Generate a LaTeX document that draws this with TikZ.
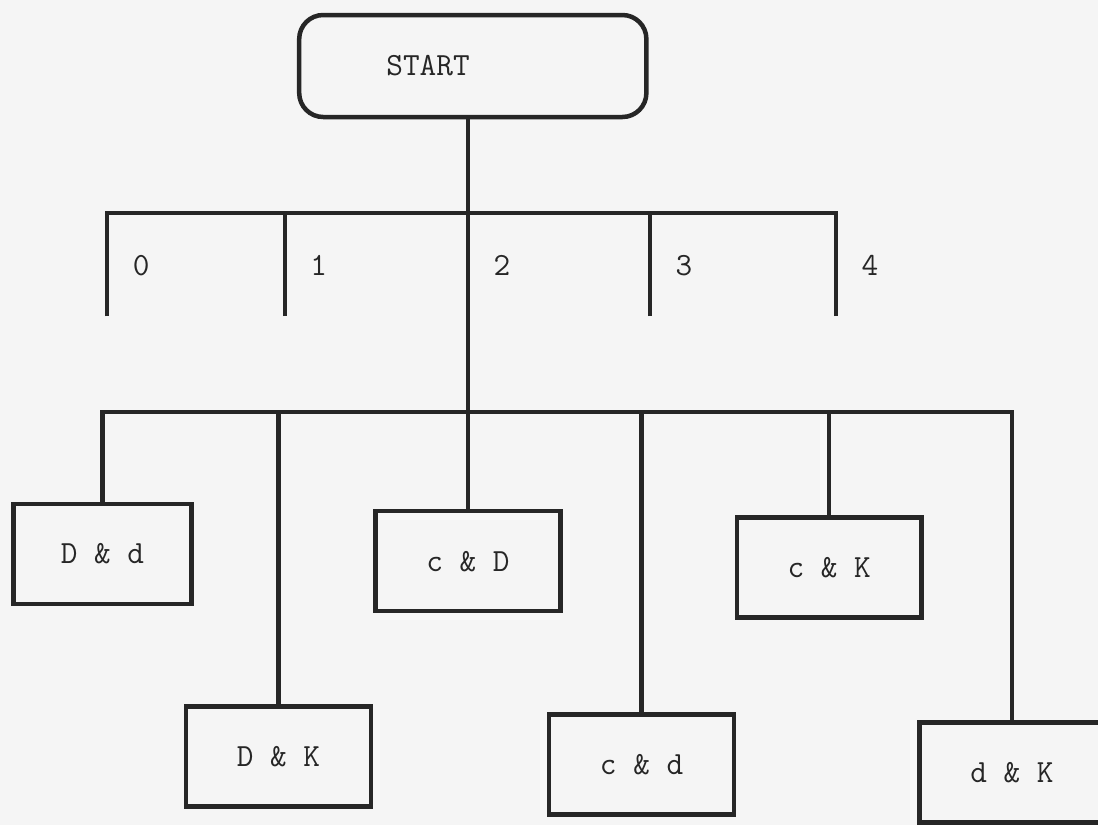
\documentclass[tikz,border=0pt]{standalone}
\usepackage{fontspec}
\usepackage{tikz}

\begin{document}
\begin{tikzpicture}[line width=3.2pt, color=black!85,
  box/.style={draw, rectangle, minimum width=4.62cm, minimum height=2.5cm, inner sep=0pt,
    font=\fontsize{23}{28}\selectfont\ttfamily},
  num/.style={font=\fontsize{23}{28}\selectfont\ttfamily}]
\clip (0,0) rectangle (27.45,-20.625);
\fill[black!4] (0,0) rectangle (27.45,-20.625);
\node[box, rounded corners=0.6cm, align=left, text width=4.32cm, inner xsep=2.18cm,
  minimum height=2.55cm] (start) at (11.82,-1.65) {START};
\coordinate (tb) at (11.7,-5.33);
\coordinate (bb) at (11.7,-10.3);
\foreach \n/\x in {0/2.68,1/7.12,2/11.7,3/16.25,4/20.9} {
  \coordinate (leg\n) at (\x,-7.9);
  \draw (leg\n) -- (leg\n |- tb);
  \node[num] (lab\n) at (\x+0.85,-6.63) {\n};
}
\draw (leg0) -- (leg0 |- tb) -- (leg4 |- tb) -- (leg4);
\node[box, minimum width=4.45cm] (Dd) at (2.56,-13.85) {D \& d};
\node[box] (DK) at (6.96,-18.91) {D \& K};
\node[box] (cD) at (11.7,-14.03) {c \& D};
\node[box] (cd) at (16.04,-19.11) {c \& d};
\node[box] (cK) at (20.73,-14.19) {c \& K};
\node[box] (dK) at (25.3,-19.31) {d \& K};
\draw (start.south -| cD.north) -- (cD.north);
\draw (Dd.north) -- (Dd.north |- bb) -- (dK.north |- bb) -- (dK.north);
\foreach \b in {DK,cd,cK}
  \draw (\b.north) -- (\b.north |- bb);
\end{tikzpicture}
\end{document}
